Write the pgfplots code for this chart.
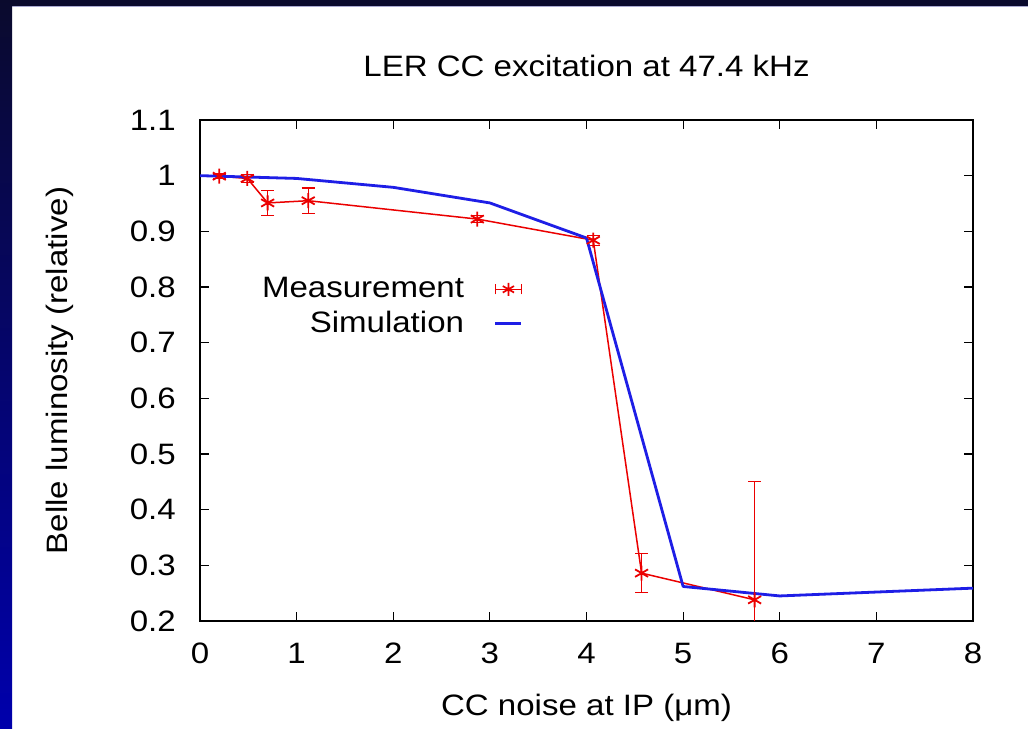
\documentclass[border=0pt]{standalone}
\usepackage{pgfplots}
\pgfplotsset{compat=1.18}
\usepackage{fontspec}
\setmainfont{Liberation Sans}[FakeStretch=1.12]
\definecolor{navyband}{RGB}{10,10,45}
\definecolor{bluemid}{RGB}{8,8,110}
\definecolor{bluebot}{RGB}{0,0,172}
\definecolor{lavline}{RGB}{170,170,210}
\definecolor{mred}{RGB}{235,0,0}
\definecolor{sblue}{RGB}{30,30,230}
\begin{document}
\fontsize{29.5bp}{33bp}\selectfont
\begin{tikzpicture}[x=1bp,y=1bp]
\useasboundingbox (0,0) rectangle (1028,729);
\fill[white] (0,0) rectangle (1028,729);
\fill[navyband] (0,723) rectangle (1028,729);
\fill[lavline] (12,722) rectangle (1028,723);
\shade[top color=navyband, middle color=bluemid, bottom color=bluebot] (0,0) rectangle (12,729);
\begin{axis}[
  at={(200bp,108bp)}, anchor=south west,
  scale only axis, width=773bp, height=501bp,
  xmin=0, xmax=8, ymin=0.2, ymax=1.1,
  xtick={0,1,...,8},
  ytick={0.2,0.3,0.4,0.5,0.6,0.7,0.8,0.9,1.0,1.1},
  yticklabels={0.2,0.3,0.4,0.5,0.6,0.7,0.8,0.9,1,1.1},
  /pgf/number format/assume math mode=true,
  tick align=inside, major tick length=9bp,
  tick style={black, line width=1.1bp},
  axis line style={black, line width=1.4bp},
  xticklabel style={inner sep=0pt, anchor=north, yshift=-22bp},
  yticklabel style={inner sep=0pt, anchor=east, xshift=-24bp},
  title={LER CC excitation at 47.4 kHz},
  title style={at={(axis description cs:0.5,1.0958)}, anchor=center, inner sep=0pt},
  xlabel={CC noise at IP (μm)},
  xlabel style={at={(axis description cs:0.5,-0.1737)}, anchor=center, inner sep=0pt},
  ylabel={Belle luminosity (relative)},
  ylabel style={at={(axis description cs:-0.1811,0.5)}, anchor=center, inner sep=0pt},
  legend cell align=right,
  legend plot pos=right,
  legend style={draw=none, fill=none, at={(axis cs:3.343,0.822)}, anchor=north east,
    row sep=5bp, inner sep=0pt, font=\fontsize{29.5bp}{33bp}\selectfont},
  clip=true,
]
\addplot[mred, line width=1.5bp, mark=asterisk, mark size=7.5bp,
  mark options={line width=1.8bp, solid},
  legend image code/.code={
    \path (0bp,0bp);
    \draw[mred, line width=1.5bp] (28bp,0bp) -- (54bp,0bp);
    \draw[mred, line width=1.3bp] (28bp,-5bp) -- (28bp,5bp) (54bp,-5bp) -- (54bp,5bp);
    \begin{scope}[shift={(41bp,0bp)}, mred, line width=1.7bp]
      \pgfsetplotmarksize{6.5bp}\pgfuseplotmark{asterisk}
    \end{scope}
  },
  error bars/.cd, y dir=both, y explicit,
  error mark=-,
  error mark options={rotate=90, mark size=6.5bp, line width=1.3bp, mred},
  error bar style={line width=1.3bp, mred},
  ]
  table[x=x, y=y, y error=e] {
  x     y      e
  0.20  0.999  0.004
  0.49  0.995  0.007
  0.70  0.951  0.022
  1.12  0.955  0.023
  2.87  0.922  0.006
  4.07  0.884  0.009
  4.57  0.286  0.035
  5.74  0.238  0.213
  };
\addlegendentry{Measurement}
\addplot[sblue, line width=2.8bp, line join=round,
  legend image code/.code={
    \path (0bp,0bp);
    \draw[sblue, line width=2.8bp] (28bp,0bp) -- (54bp,0bp);
  }] table {
  x  y
  0  1.000
  1  0.995
  2  0.979
  3  0.951
  4  0.888
  5  0.262
  6  0.245
  8  0.259
  };
\addlegendentry{Simulation}
\end{axis}
\end{tikzpicture}
\end{document}
